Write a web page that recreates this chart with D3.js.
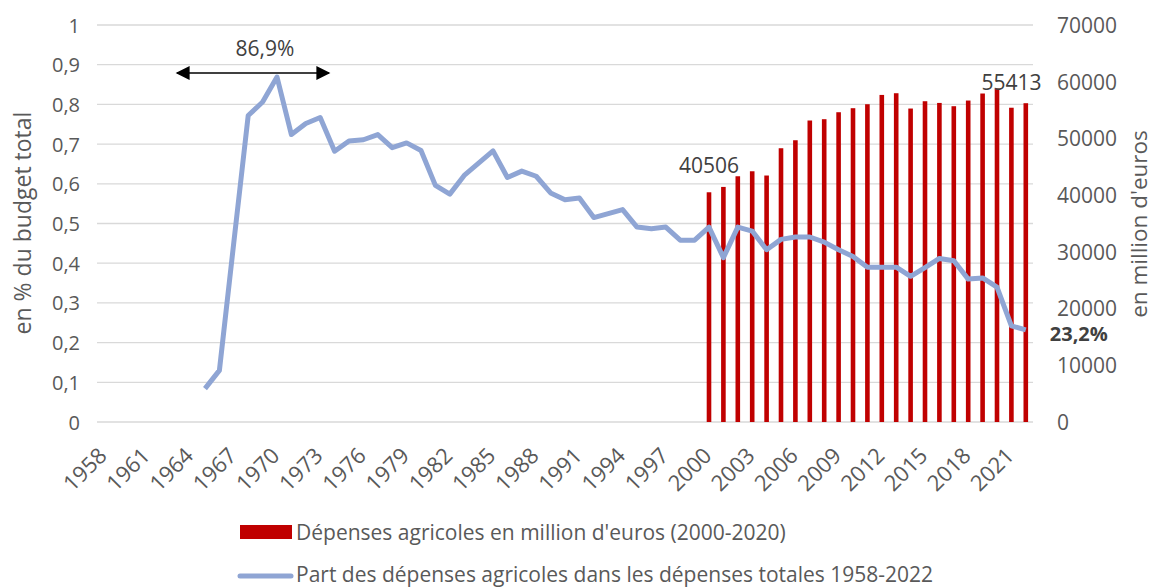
<!DOCTYPE html>
<html>
<head>
<meta charset="utf-8">
<script src="https://cdn.jsdelivr.net/npm/d3@7"></script>
<style>
  body { margin: 0; background: #fff; }
  svg { display: block; }
</style>
</head>
<body>
<div id="chart"></div>
<script>
// years on the category axis
const years = d3.range(1958, 2023);
const tickYears = d3.range(1958, 2023, 3);

// share of agricultural spending in total budget (1965-2022)
const shareYears = d3.range(1965, 2023);
const shareValues = [
  0.084, 0.130, 0.452, 0.772, 0.806, 0.869, 0.724, 0.752, 0.767, 0.682,
  0.708, 0.711, 0.724, 0.691, 0.703, 0.684, 0.596, 0.574, 0.621, 0.652,
  0.683, 0.616, 0.632, 0.619, 0.577, 0.560, 0.564, 0.515, 0.525, 0.535,
  0.491, 0.487, 0.491, 0.458, 0.458, 0.491, 0.414, 0.491, 0.481, 0.434,
  0.460, 0.466, 0.466, 0.453, 0.434, 0.417, 0.390, 0.390, 0.390, 0.367,
  0.389, 0.412, 0.406, 0.360, 0.363, 0.340, 0.242, 0.232
];

// agricultural spending in million euros (2000-2022)
const spendYears = d3.range(2000, 2023);
const spendValues = [
  40506, 41450, 43330, 44210, 43460, 48270, 49680, 53160, 53390, 54620,
  55330, 56030, 57670, 57970, 55270, 56560, 56260, 55680, 56680, 57920,
  58800, 55413, 56210
];

const leftTicks = d3.range(0, 1.01, 0.1);
const rightTicks = d3.range(0, 70001, 10000);

const width = 1154;
const height = 588;
const marginTop = 25;
const marginRight = 121;
const marginBottom = 166;
const marginLeft = 97;

const font = "'Open Sans', sans-serif";
const textColor = "#595959";

const x = d3.scaleBand(years, [marginLeft, width - marginRight]);
const yL = d3.scaleLinear([0, 1], [height - marginBottom, marginTop]);
const yR = d3.scaleLinear([0, 70000], [height - marginBottom, marginTop]);
const cx = d => x(d) + x.bandwidth() / 2;

const svg = d3.select("#chart")
  .append("svg")
  .attr("width", width)
  .attr("height", height)
  .attr("viewBox", [0, 0, width, height])
  .attr("font-family", font);

// gridlines
svg.append("g")
  .selectAll("line")
  .data(leftTicks)
  .join("line")
  .attr("x1", marginLeft)
  .attr("x2", width - marginRight)
  .attr("y1", d => yL(d))
  .attr("y2", d => yL(d))
  .attr("stroke", "#d9d9d9")
  .attr("stroke-width", 1.3);

// left axis
const gl = svg.append("g")
  .attr("transform", `translate(${marginLeft - 14},0)`)
  .call(d3.axisLeft(yL).tickValues(leftTicks).tickSize(0)
    .tickFormat(d => d3.format(".1~f")(d).replace(".", ",")))
  .call(g => g.select(".domain").remove());
gl.selectAll("text")
  .attr("font-size", 20)
  .attr("font-family", font)
  .attr("fill", textColor)
  .attr("dy", "0.35em");

// right axis
const gr = svg.append("g")
  .attr("transform", `translate(${width - marginRight + 24},0)`)
  .call(d3.axisRight(yR).tickValues(rightTicks).tickSize(0).tickFormat(d3.format("d")))
  .call(g => g.select(".domain").remove());
gr.selectAll("text")
  .attr("font-size", 21)
  .attr("font-family", font)
  .attr("fill", textColor)
  .attr("x", 0)
  .attr("dy", "0.35em");

// bottom axis
const gx = svg.append("g")
  .attr("transform", `translate(0,${height - marginBottom})`)
  .call(d3.axisBottom(x).tickValues(tickYears).tickSize(0))
  .call(g => g.select(".domain").remove());
gx.selectAll("text")
  .attr("font-size", 22)
  .attr("font-family", font)
  .attr("fill", textColor)
  .attr("text-anchor", "end")
  .attr("y", 0)
  .attr("dy", "0")
  .attr("transform", "translate(4,35) rotate(-45)");

// axis titles
svg.append("text")
  .attr("transform", `translate(31,223) rotate(-90)`)
  .attr("text-anchor", "middle")
  .attr("font-size", 23)
  .attr("fill", textColor)
  .text("en % du budget total");

svg.append("text")
  .attr("transform", `translate(1147,224) rotate(-90)`)
  .attr("text-anchor", "middle")
  .attr("font-size", 22.5)
  .attr("fill", textColor)
  .text("en million d'euros");

// bars
const spend = spendYears.map((year, i) => ({ year, value: spendValues[i] }));
const barW = 4.6;
svg.append("g")
  .attr("fill", "#c00000")
  .selectAll("rect")
  .data(spend)
  .join("rect")
  .attr("x", d => cx(d.year) - barW / 2)
  .attr("width", barW)
  .attr("y", d => yR(d.value))
  .attr("height", d => yR(0) - yR(d.value));

// line
const share = shareYears.map((year, i) => ({ year, value: shareValues[i] }));
const line = d3.line()
  .x(d => cx(d.year))
  .y(d => yL(d.value));

svg.append("path")
  .attr("d", line(share))
  .attr("fill", "none")
  .attr("stroke", "#8fa5d4")
  .attr("stroke-width", 5)
  .attr("stroke-linejoin", "round");

// data labels
const first = spend[0];
const peakSpend = spend.find(d => d.value === 55413);
svg.append("text")
  .attr("x", cx(first.year))
  .attr("y", yR(first.value) - 19)
  .attr("text-anchor", "middle")
  .attr("font-size", 21)
  .attr("fill", "#404040")
  .text(first.value);
svg.append("text")
  .attr("x", cx(peakSpend.year))
  .attr("y", yR(peakSpend.value) - 18)
  .attr("text-anchor", "middle")
  .attr("font-size", 21)
  .attr("fill", "#404040")
  .text(peakSpend.value);

const lastShare = share[share.length - 1];
svg.append("text")
  .attr("x", cx(lastShare.year) + 24)
  .attr("y", yL(lastShare.value) + 11)
  .attr("font-size", 20)
  .attr("font-weight", "bold")
  .attr("fill", "#404040")
  .text("23,2%");

// peak annotation with double arrow
const peak = share.find(d => d.value === 0.869);
svg.append("defs")
  .append("marker")
  .attr("id", "arrow")
  .attr("viewBox", "0 0 10 10")
  .attr("refX", 9)
  .attr("refY", 5)
  .attr("markerWidth", 16)
  .attr("markerHeight", 14)
  .attr("markerUnits", "userSpaceOnUse")
  .attr("orient", "auto-start-reverse")
  .append("path")
  .attr("d", "M0,0L10,5L0,10Z")
  .attr("fill", "#000");

const arrowY = yL(peak.value) - 4;
svg.append("line")
  .attr("x1", cx(peak.year) - 100)
  .attr("x2", cx(peak.year) + 52)
  .attr("y1", arrowY)
  .attr("y2", arrowY)
  .attr("stroke", "#000")
  .attr("stroke-width", 1.5)
  .attr("marker-start", "url(#arrow)")
  .attr("marker-end", "url(#arrow)");

svg.append("text")
  .attr("x", cx(peak.year) - 12)
  .attr("y", arrowY - 17)
  .attr("text-anchor", "middle")
  .attr("font-size", 21)
  .attr("fill", "#404040")
  .text("86,9%");

// legend
const legend = svg.append("g").attr("font-size", 21).attr("fill", textColor);
legend.append("rect")
  .attr("x", 240).attr("y", 525).attr("width", 52).attr("height", 14)
  .attr("fill", "#c00000");
legend.append("text")
  .attr("x", 296).attr("y", 540)
  .text("Dépenses agricoles en million d'euros (2000-2020)");
legend.append("line")
  .attr("x1", 240).attr("x2", 291).attr("y1", 576).attr("y2", 576)
  .attr("stroke", "#8fa5d4").attr("stroke-width", 5).attr("stroke-linecap", "round");
legend.append("text")
  .attr("x", 296).attr("y", 582)
  .text("Part des dépenses agricoles dans les dépenses totales 1958-2022");
</script>
</body>
</html>
